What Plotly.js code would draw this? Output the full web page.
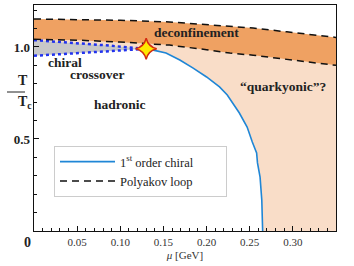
<!DOCTYPE html>
<html>
<head>
<meta charset="utf-8">
<script src="https://cdn.plot.ly/plotly-3.0.1.min.js"></script>
<style>html,body{margin:0;padding:0;background:#fff;}#chart{width:354px;height:266px;}</style>
</head>
<body>
<div id="chart"></div>
<script>
// Polyakov loop (deconfinement band) boundaries
const muPolyUpper = [0, 0.05, 0.10, 0.157, 0.20, 0.254, 0.293, 0.35];
const tPolyUpper  = [1.152, 1.150, 1.145, 1.136, 1.122, 1.103, 1.082, 1.052];
const muPolyLower = [0, 0.05, 0.10, 0.134, 0.157, 0.20, 0.227, 0.254, 0.30, 0.35];
const tPolyLower  = [1.042, 1.037, 1.027, 1.018, 1.010, 0.985, 0.967, 0.955, 0.930, 0.900];
// chiral crossover band
const muCrossUpper = [0, 0.04, 0.08, 0.13];
const tCrossUpper  = [1.037, 1.025, 1.010, 0.990];
const muCrossLower = [0, 0.04, 0.08, 0.13];
const tCrossLower  = [0.952, 0.962, 0.975, 0.990];
// first-order chiral line
const muFirst = [0.130, 0.137, 0.153, 0.169, 0.184, 0.200, 0.215, 0.224, 0.238, 0.247, 0.253, 0.258, 0.259, 0.262, 0.264, 0.265];
const tFirst  = [0.989, 0.984, 0.967, 0.929, 0.886, 0.837, 0.783, 0.739, 0.641, 0.565, 0.484, 0.424, 0.370, 0.293, 0.168, 0.0];
// critical end point
const muCEP = [0.13];
const tCEP  = [0.99];
// axis ticks
const xTickVals = [0.05, 0.10, 0.15, 0.20, 0.25, 0.30];
const xTickText = ['0.05', '0.10', '0.15', '0.20', '0.25', '0.30'];
const yTickVals = [0.5, 1.0];
const yTickText = ['0.5', '1.0'];
const muMax = 0.35;

const rev = a => a.slice().reverse();
const serif = 'Liberation Serif, DejaVu Serif, serif';

// peach ("quarkyonic") region polygon
const peachX = muPolyLower.concat([muMax, muFirst[muFirst.length-1]], rev(muFirst), rev(muCrossUpper));
const peachY = tPolyLower.concat([0, 0], rev(tFirst), rev(tCrossUpper));
// orange deconfinement band
const bandX = muPolyUpper.concat(rev(muPolyLower));
const bandY = tPolyUpper.concat(rev(tPolyLower));
// grey crossover band
const greyX = muCrossUpper.concat(rev(muCrossLower));
const greyY = tCrossUpper.concat(rev(tCrossLower));

const traces = [
  {x: peachX, y: peachY, type: 'scatter', mode: 'lines', fill: 'toself', fillcolor: 'rgb(249,221,200)', line: {width: 0}, showlegend: false, hoverinfo: 'skip'},
  {x: bandX, y: bandY, type: 'scatter', mode: 'lines', fill: 'toself', fillcolor: 'rgb(239,161,98)', line: {width: 0}, showlegend: false, hoverinfo: 'skip'},
  {x: greyX, y: greyY, type: 'scatter', mode: 'lines', fill: 'toself', fillcolor: 'rgb(200,200,200)', line: {width: 0}, showlegend: false, hoverinfo: 'skip'},
  {x: muCrossUpper, y: tCrossUpper, type: 'scatter', mode: 'lines', line: {color: '#2233ee', width: 2.5, dash: 'dot'}, showlegend: false},
  {x: muCrossLower, y: tCrossLower, type: 'scatter', mode: 'lines', line: {color: '#2233ee', width: 2.5, dash: 'dot'}, showlegend: false},
  {x: muPolyUpper, y: tPolyUpper, type: 'scatter', mode: 'lines', line: {color: '#111', width: 1.5, dash: '7px,5px'}, name: 'Polyakov loop\u00A0\u00A0\u00A0\u00A0\u00A0\u00A0\u00A0\u00A0\u00A0', legendrank: 2},
  {x: muPolyLower, y: tPolyLower, type: 'scatter', mode: 'lines', line: {color: '#111', width: 1.5, dash: '7px,5px'}, showlegend: false},
  {x: muFirst, y: tFirst, type: 'scatter', mode: 'lines', line: {color: '#1f86d6', width: 1.6}, name: '1<sup>st</sup> order chiral', legendrank: 1},
  {x: muCEP, y: tCEP, type: 'scatter', mode: 'markers', marker: {symbol: 'star-diamond', size: 15, color: '#ffe800', line: {color: '#d42a10', width: 1.5}}, showlegend: false}
];

const px = (p) => (p - 34) / 302;   // pixel x -> paper
const py = (p) => (231 - p) / 226;  // pixel y -> paper

const textFont = {family: serif, size: 13.5, color: '#222', weight: 'bold'};
const annotations = [
  {x: 0.188, y: 1.076, xref: 'x', yref: 'y', text: 'deconfinement', showarrow: false, font: textFont},
  {x: 0.014, y: 0.913, xref: 'x', yref: 'y', text: 'chiral', showarrow: false, xanchor: 'left', font: textFont},
  {x: 0.073, y: 0.848, xref: 'x', yref: 'y', text: 'crossover', showarrow: false, font: textFont},
  {x: 0.100, y: 0.685, xref: 'x', yref: 'y', text: 'hadronic', showarrow: false, font: textFont},
  {x: 0.288, y: 0.783, xref: 'x', yref: 'y', text: '\u201Cquarkyonic\u201D?', showarrow: false, font: textFont},
  {x: px(16), y: py(81), xref: 'paper', yref: 'paper', text: 'T', showarrow: false, font: {family: serif, size: 14, color: '#222', weight: 'bold'}},
  {x: px(16), y: py(102), xref: 'paper', yref: 'paper', text: 'T<sub>c</sub>', showarrow: false, font: {family: serif, size: 14, color: '#222', weight: 'bold'}},
  {x: px(33), y: py(233), xref: 'paper', yref: 'paper', xanchor: 'right', yanchor: 'top', text: '0', showarrow: false, font: {family: serif, size: 14, color: '#222', weight: 'bold'}}
];

const layout = {
  width: 354, height: 266,
  margin: {l: 34, r: 18, t: 5, b: 35},
  paper_bgcolor: '#fff', plot_bgcolor: '#fff',
  showlegend: true,
  legend: {x: px(54), y: py(146), xanchor: 'left', yanchor: 'top', bgcolor: '#fff', bordercolor: '#ccc', borderwidth: 1,
           font: {family: serif, size: 12.5, color: '#222'}, itemwidth: 55, tracegroupgap: 0},
  xaxis: {range: [0, muMax], showgrid: false, zeroline: false, showline: true, linecolor: '#111', linewidth: 1.3, mirror: true,
          tickvals: xTickVals, ticktext: xTickText, ticks: 'inside', ticklen: 5, tickcolor: '#111',
          minor: {dtick: 0.01, ticks: 'inside', ticklen: 3, tickcolor: '#111', showgrid: false},
          tickfont: {family: serif, size: 11, color: '#333'},
          title: {text: '<i>μ</i> [GeV]', font: {family: serif, size: 11, color: '#333'}, standoff: 4}},
  yaxis: {range: [0, 1.228], showgrid: false, zeroline: false, showline: true, linecolor: '#111', linewidth: 1.3, mirror: true,
          tickvals: yTickVals, ticktext: yTickText, ticks: 'inside', ticklen: 5, tickcolor: '#111',
          minor: {dtick: 0.1, ticks: 'inside', ticklen: 3, tickcolor: '#111', showgrid: false},
          tickfont: {family: serif, size: 13, color: '#222', weight: 'bold'}},
  shapes: [
    {type: 'line', xref: 'paper', yref: 'paper', x0: px(7), x1: px(25), y0: py(92), y1: py(92), line: {color: '#222', width: 1}}
  ],
  annotations: annotations
};

Plotly.newPlot('chart', traces, layout, {displayModeBar: false, staticPlot: true});
</script>
</body>
</html>
